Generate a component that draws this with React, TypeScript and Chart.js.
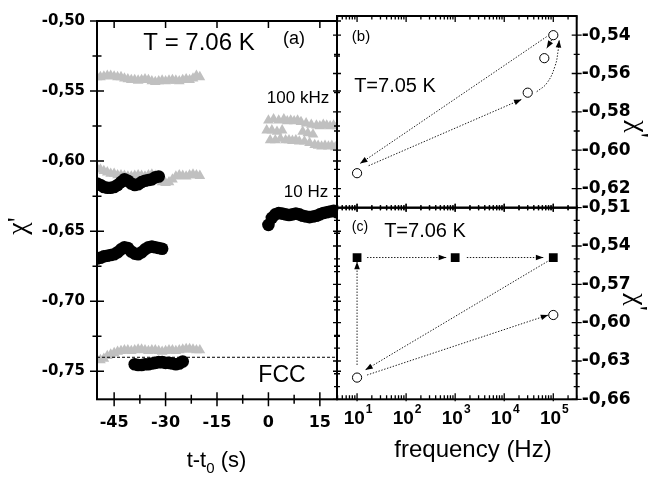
import React, { useEffect, useRef } from 'react';
import { Chart, registerables } from 'chart.js';

Chart.register(...registerables);

const W = 668;
const H = 477;

// ---------------- Panel (a): chi' versus t - t0 ----------------
const tGrayBefore = [-50, -49, -48, -47, -46, -45, -44, -43, -42, -41, -40, -39, -38, -37, -36, -35, -34, -33, -32, -31, -30, -29, -28, -27, -26, -25, -24, -23, -22, -21, -20];
const chiGrayHighBefore = [-0.540, -0.540, -0.5395, -0.539, -0.539, -0.5395, -0.540, -0.540, -0.541, -0.5415, -0.542, -0.542, -0.5425, -0.542, -0.5415, -0.542, -0.543, -0.5435, -0.543, -0.5425, -0.543, -0.5425, -0.542, -0.5425, -0.543, -0.542, -0.5415, -0.542, -0.541, -0.539, -0.540];
const chiGrayMidBefore = [-0.605, -0.606, -0.607, -0.608, -0.609, -0.609, -0.610, -0.610, -0.6105, -0.611, -0.611, -0.6105, -0.610, -0.6105, -0.611, -0.610, -0.6095, -0.6105, -0.613, -0.615, -0.6155, -0.615, -0.613, -0.611, -0.610, -0.6105, -0.611, -0.610, -0.6095, -0.610, -0.6105];
const chiGrayLowBefore = [-0.7415, -0.742, -0.741, -0.739, -0.738, -0.737, -0.736, -0.7355, -0.735, -0.735, -0.7355, -0.735, -0.7345, -0.7345, -0.735, -0.7355, -0.735, -0.735, -0.7355, -0.736, -0.7355, -0.735, -0.735, -0.7355, -0.735, -0.7345, -0.734, -0.734, -0.7345, -0.735, -0.735];

const tBlackHigh = [-50, -49, -48, -47, -46, -45, -44, -43, -42, -41, -40, -39, -38, -37, -36, -35, -34, -33, -32];
const chiBlackHigh = [-0.616, -0.617, -0.6185, -0.619, -0.619, -0.6185, -0.617, -0.615, -0.613, -0.614, -0.616, -0.617, -0.6165, -0.615, -0.614, -0.6135, -0.613, -0.6115, -0.611];

const tBlackMid = [-50, -49, -48, -47, -46, -45, -44, -43, -42, -41, -40, -39, -38, -37, -36, -35, -34, -33, -32, -31];
const chiBlackMid = [-0.6695, -0.669, -0.668, -0.6675, -0.667, -0.6665, -0.665, -0.663, -0.6615, -0.662, -0.6645, -0.666, -0.6665, -0.665, -0.663, -0.6615, -0.661, -0.6615, -0.662, -0.6625];

const tBlackLow = [-39, -38, -37, -36, -35, -34, -33, -32, -31, -30, -29, -28, -27, -26, -25];
const chiBlackLow = [-0.745, -0.7455, -0.7455, -0.745, -0.745, -0.7445, -0.744, -0.7435, -0.7435, -0.744, -0.744, -0.7445, -0.745, -0.7445, -0.743];

const tGrayAfter = [-0.5, 0, 0.5, 1, 1.5, 2, 2.5, 3, 3.5, 4, 4.5, 5, 5.5, 6, 6.5, 7, 7.5, 8, 8.5, 9, 9.5, 10, 10.5, 11, 11.5, 12, 12.5, 13, 13.5, 14, 14.5, 15, 15.5, 16, 16.5, 17, 17.5, 18, 18.5, 19, 19.5, 20];
const chiGrayAfter = [-0.578, -0.571, -0.585, -0.578, -0.570, -0.585, -0.579, -0.571, -0.584, -0.578, -0.570, -0.585, -0.5715, -0.585, -0.571, -0.5855, -0.5715, -0.585, -0.571, -0.586, -0.572, -0.579, -0.586, -0.573, -0.580, -0.587, -0.574, -0.581, -0.5885, -0.5745, -0.589, -0.575, -0.5895, -0.574, -0.589, -0.5745, -0.5895, -0.575, -0.589, -0.5745, -0.590, -0.575];

const tBlackAfter = [0, 1, 2, 3, 4, 5, 6, 7, 8, 9, 10, 11, 12, 13, 14, 15, 16, 17, 18, 19, 20];
const chiBlackAfter = [-0.6455, -0.6405, -0.638, -0.637, -0.6375, -0.638, -0.6385, -0.638, -0.6375, -0.638, -0.639, -0.6395, -0.640, -0.6395, -0.639, -0.638, -0.637, -0.6365, -0.636, -0.6355, -0.6365];

const fccT = [-50, 20];
const fccChi = [-0.74, -0.74];

const xMajorA = [-45, -30, -15, 0, 15];
const xMinorA = [-37.5, -22.5, -7.5, 7.5];
const yMajorA = [-0.75, -0.70, -0.65, -0.60, -0.55, -0.50];
const yMinorA = [-0.725, -0.675, -0.625, -0.575, -0.525];

// ---------------- Panel (b): chi' versus frequency, T = 7.05 K ----------------
const freqB = [10, 30100, 65600, 100000];
const chiB = [-0.612, -0.570, -0.552, -0.540];
const arrowsB = [
  { f: [73100, 11.5], chi: [-0.5408, -0.607], curved: false },
  { f: [17.2, 22500], chi: [-0.6081, -0.5735], curved: false },
  { f: [45900, 73500, 108000, 126000, 132000], chi: [-0.5695, -0.5651, -0.5563, -0.5477, -0.5425], curved: true },
  { f: [92700, 73500], chi: [-0.5425, -0.5468], curved: false },
];
const yMajorB = [-0.62, -0.60, -0.58, -0.56, -0.54];
const yMinorB = [-0.61, -0.59, -0.57, -0.55];

// ---------------- Panel (c): chi' versus frequency, T = 7.06 K ----------------
const freqSquaresC = [10, 1000, 100000];
const chiSquaresC = [-0.549, -0.549, -0.549];
const freqCirclesC = [10, 100000];
const chiCirclesC = [-0.643, -0.594];
const arrowsC = [
  { f: [10, 10], chi: [-0.6331, -0.5523], curved: false },
  { f: [16, 656], chi: [-0.549, -0.549], curved: false },
  { f: [1730, 62700], chi: [-0.549, -0.549], curved: false },
  { f: [85700, 14.7], chi: [-0.5509, -0.637], curved: false },
  { f: [16, 79000], chi: [-0.641, -0.594], curved: false },
];
const yMajorC = [-0.66, -0.63, -0.60, -0.57, -0.54, -0.51];
const yMinorC = [-0.65, -0.64, -0.62, -0.61, -0.59, -0.58, -0.56, -0.55, -0.53, -0.52];

const freqMajor = [10, 100, 1000, 10000, 100000];
const freqExponents = ['1', '2', '3', '4', '5'];
const freqMinor: number[] = [];
[1, 10, 100, 1000, 10000, 100000].forEach((d) => {
  for (let m = 2; m <= 9; m++) freqMinor.push(m * d);
});

// ---------------- helpers ----------------
const SANS = '"Liberation Sans", Arial, sans-serif';
const TICK = '"DejaVu Sans", sans-serif';
const SERIF = '"Liberation Serif", "DejaVu Serif", serif';

const pts = (xs: number[], ys: number[]) => xs.map((x, i) => ({ x, y: ys[i] }));

const blackCircles = (xs: number[], ys: number[]) => ({
  data: pts(xs, ys),
  showLine: false,
  pointStyle: 'circle',
  pointRadius: 6.3,
  pointBackgroundColor: '#000',
  pointBorderColor: '#000',
  pointBorderWidth: 0,
});

const grayTriangles = (xs: number[], ys: number[]) => ({
  data: pts(xs, ys),
  showLine: false,
  pointStyle: 'triangle',
  pointRadius: 6.2,
  pointBackgroundColor: '#c0c0c0',
  pointBorderColor: '#c0c0c0',
  pointBorderWidth: 0,
});

const openCircles = (xs: number[], ys: number[]) => ({
  data: pts(xs, ys),
  showLine: false,
  pointStyle: 'circle',
  pointRadius: 4.6,
  pointBackgroundColor: '#fff',
  pointBorderColor: '#000',
  pointBorderWidth: 1,
});

const filledSquares = (xs: number[], ys: number[]) => ({
  data: pts(xs, ys),
  showLine: false,
  pointStyle: 'rect',
  pointRadius: 6.2,
  pointBackgroundColor: '#000',
  pointBorderColor: '#000',
  pointBorderWidth: 0,
});

const arrowSet = (a: { f: number[]; chi: number[]; curved: boolean }) => ({
  data: pts(a.f, a.chi),
  showLine: true,
  borderColor: '#1a1a1a',
  borderWidth: 1,
  borderDash: [1.4, 1.6],
  pointRadius: 0,
  tension: a.curved ? 0.45 : 0,
  arrow: true,
});

function tickSet(chart: any, axis: string, side: string, values: number[], inLen: number, outLen: number) {
  const ctx = chart.ctx;
  const a = chart.chartArea;
  const s = chart.scales[axis];
  ctx.beginPath();
  values.forEach((v) => {
    const p = s.getPixelForValue(v);
    if (axis === 'x') {
      if (p < a.left - 0.5 || p > a.right + 0.5) return;
      const y0 = side === 'bottom' ? a.bottom : a.top;
      const d = side === 'bottom' ? -1 : 1;
      ctx.moveTo(p, y0 - d * outLen);
      ctx.lineTo(p, y0 + d * inLen);
    } else {
      if (p < a.top - 0.5 || p > a.bottom + 0.5) return;
      const x0 = side === 'left' ? a.left : a.right;
      const d = side === 'left' ? 1 : -1;
      ctx.moveTo(x0 - d * outLen, p);
      ctx.lineTo(x0 + d * inLen, p);
    }
  });
  ctx.stroke();
}

function text(ctx: any, s: string, x: number, y: number, size: number, o: any = {}) {
  ctx.save();
  ctx.font = `${o.weight || 'normal'} ${size}px ${o.family || SANS}`;
  ctx.fillStyle = '#000';
  ctx.textAlign = o.align || 'center';
  ctx.textBaseline = o.baseline || 'alphabetic';
  if (o.rot) {
    ctx.translate(x, y);
    ctx.rotate(o.rot);
    ctx.fillText(s, 0, 0);
  } else {
    ctx.fillText(s, x, y);
  }
  ctx.restore();
}

function frame(chart: any) {
  const ctx = chart.ctx;
  const a = chart.chartArea;
  ctx.save();
  ctx.strokeStyle = '#000';
  ctx.lineWidth = 2;
  ctx.strokeRect(a.left, a.top, a.right - a.left, a.bottom - a.top);
  ctx.restore();
}

const arrowHeads = {
  id: 'arrowHeads',
  afterDatasetsDraw(chart: any) {
    const ctx = chart.ctx;
    chart.data.datasets.forEach((ds: any, i: number) => {
      if (!ds.arrow) return;
      const els = chart.getDatasetMeta(i).data;
      const p0 = els[els.length - 2];
      const p1 = els[els.length - 1];
      const ang = Math.atan2(p1.y - p0.y, p1.x - p0.x);
      const L = 7.5;
      const hw = 2.8;
      ctx.save();
      ctx.fillStyle = '#000';
      ctx.beginPath();
      ctx.moveTo(p1.x, p1.y);
      ctx.lineTo(p1.x - L * Math.cos(ang) + hw * Math.sin(ang), p1.y - L * Math.sin(ang) - hw * Math.cos(ang));
      ctx.lineTo(p1.x - L * Math.cos(ang) - hw * Math.sin(ang), p1.y - L * Math.sin(ang) + hw * Math.cos(ang));
      ctx.closePath();
      ctx.fill();
      ctx.restore();
    });
  },
};

const chiLabel = (ctx: any, x: number, y: number, rot: number) =>
  text(ctx, "\u03c7'", x, y, 28, { family: SERIF, baseline: 'middle', rot });

const decorA = {
  id: 'decorA',
  afterDraw(chart: any) {
    const ctx = chart.ctx;
    frame(chart);
    ctx.save();
    ctx.strokeStyle = '#000';
    ctx.lineWidth = 1.5;
    tickSet(chart, 'x', 'bottom', xMajorA, 7, 7);
    tickSet(chart, 'x', 'bottom', xMinorA, 4.5, 4.5);
    tickSet(chart, 'x', 'top', xMajorA, 7, 0);
    tickSet(chart, 'y', 'left', yMajorA, 7, 7);
    tickSet(chart, 'y', 'left', yMinorA, 4.5, 4.5);
    tickSet(chart, 'y', 'right', yMajorA, 4, 4);
    tickSet(chart, 'y', 'right', yMinorA, 3, 3);
    ctx.restore();

    text(ctx, 'T = 7.06 K', 199, 50, 24);
    text(ctx, '(a)', 294, 44, 18);
    text(ctx, '100 kHz', 298, 103, 17);
    text(ctx, '10 Hz', 306, 197, 17);
    text(ctx, 'FCC', 282, 382, 23);
    chiLabel(ctx, 19, 226, -Math.PI / 2);

    // axis title t-t0 (s)
    ctx.save();
    ctx.fillStyle = '#000';
    ctx.textBaseline = 'alphabetic';
    ctx.textAlign = 'left';
    ctx.font = `22px ${SANS}`;
    const w1 = ctx.measureText('t-t').width;
    const w3 = ctx.measureText(' (s)').width;
    ctx.font = `15px ${SANS}`;
    const w2 = ctx.measureText('0').width;
    const x0 = 216.5 - (w1 + w2 + w3) / 2;
    const base = 467;
    ctx.font = `22px ${SANS}`;
    ctx.fillText('t-t', x0, base);
    ctx.fillText(' (s)', x0 + w1 + w2, base);
    ctx.font = `15px ${SANS}`;
    ctx.fillText('0', x0 + w1, base + 6);
    ctx.restore();
  },
};

const decorB = {
  id: 'decorB',
  afterDraw(chart: any) {
    const ctx = chart.ctx;
    frame(chart);
    ctx.save();
    ctx.strokeStyle = '#000';
    ctx.lineWidth = 1.3;
    tickSet(chart, 'x', 'top', freqMajor, 6, 0);
    tickSet(chart, 'x', 'top', freqMinor, 3.5, 0);
    tickSet(chart, 'x', 'bottom', freqMajor, 4, 4);
    tickSet(chart, 'x', 'bottom', freqMinor, 2.5, 2.5);
    tickSet(chart, 'y', 'left', yMajorB, 4, 4);
    tickSet(chart, 'y', 'left', yMinorB, 3, 3);
    tickSet(chart, 'y', 'right', yMajorB, 5, 5);
    tickSet(chart, 'y', 'right', yMinorB, 3, 3);
    ctx.restore();
    text(ctx, '(b)', 361, 41, 15);
    text(ctx, 'T=7.05 K', 395, 92, 20);
    chiLabel(ctx, 637, 129, Math.PI / 2);
  },
};

const decorC = {
  id: 'decorC',
  afterDraw(chart: any) {
    const ctx = chart.ctx;
    frame(chart);
    ctx.save();
    ctx.strokeStyle = '#000';
    ctx.lineWidth = 1.3;
    tickSet(chart, 'x', 'top', freqMajor, 4, 4);
    tickSet(chart, 'x', 'top', freqMinor, 2.5, 2.5);
    tickSet(chart, 'x', 'bottom', freqMajor, 6, 2);
    tickSet(chart, 'x', 'bottom', freqMinor, 4, 0);
    tickSet(chart, 'y', 'left', yMajorC, 4, 4);
    tickSet(chart, 'y', 'left', yMinorC, 3, 3);
    tickSet(chart, 'y', 'right', yMajorC, 5, 5);
    tickSet(chart, 'y', 'right', yMinorC, 3, 3);
    ctx.restore();

    const s = chart.scales.x;
    ctx.save();
    ctx.fillStyle = '#000';
    ctx.textAlign = 'left';
    ctx.textBaseline = 'alphabetic';
    freqMajor.forEach((v, i) => {
      const p = s.getPixelForValue(v);
      ctx.font = `bold 19px ${SANS}`;
      const w1 = ctx.measureText('10').width;
      ctx.font = `bold 12px ${SANS}`;
      const w2 = ctx.measureText(freqExponents[i]).width;
      const x0 = p - (w1 + 1 + w2) / 2 + 1;
      ctx.font = `bold 19px ${SANS}`;
      ctx.fillText('10', x0, 424);
      ctx.font = `bold 12px ${SANS}`;
      ctx.fillText(freqExponents[i], x0 + w1 + 1, 413);
    });
    ctx.restore();

    text(ctx, '(c)', 360, 231, 14);
    text(ctx, 'T=7.06 K', 425, 237, 20);
    text(ctx, 'frequency (Hz)', 473, 457, 24);
    chiLabel(ctx, 636, 302, Math.PI / 2);
  },
};

const commonOpts = {
  responsive: false,
  animation: false,
  devicePixelRatio: 1,
  events: [],
  plugins: { legend: { display: false }, tooltip: { enabled: false } },
};

const fmtComma = (v: any) => Number(v).toFixed(2).replace('.', ',');

function configA(): any {
  return {
    type: 'scatter',
    data: {
      datasets: [
        {
          data: pts(fccT, fccChi),
          showLine: true,
          borderColor: '#000',
          borderWidth: 1,
          borderDash: [3, 2],
          pointRadius: 0,
        },
        blackCircles(tBlackHigh, chiBlackHigh),
        blackCircles(tBlackMid, chiBlackMid),
        blackCircles(tBlackLow, chiBlackLow),
        blackCircles(tBlackAfter, chiBlackAfter),
        grayTriangles(tGrayBefore, chiGrayHighBefore),
        grayTriangles(tGrayBefore, chiGrayMidBefore),
        grayTriangles(tGrayBefore, chiGrayLowBefore),
        grayTriangles(tGrayAfter, chiGrayAfter),
      ],
    },
    options: {
      ...commonOpts,
      layout: { padding: { left: 0, top: 16, right: W - 337, bottom: 0 } },
      scales: {
        x: {
          type: 'linear',
          position: 'bottom',
          min: -50,
          max: 20,
          grid: { display: false, drawTicks: false },
          border: { display: false },
          ticks: {
            font: { family: TICK, weight: 'bold', size: 16 },
            color: '#000',
            padding: 14,
            maxRotation: 0,
            autoSkip: false,
            callback: (v: any) => String(v),
          },
          afterBuildTicks: (s: any) => {
            s.ticks = xMajorA.map((value) => ({ value }));
          },
          afterFit: (s: any) => {
            s.height = H - 399.3;
          },
        },
        y: {
          type: 'linear',
          position: 'left',
          min: -0.77,
          max: -0.5,
          grid: { display: false, drawTicks: false },
          border: { display: false },
          ticks: {
            font: { family: TICK, weight: 'bold', size: 15 },
            color: '#000',
            padding: 12,
            autoSkip: false,
            callback: fmtComma,
          },
          afterBuildTicks: (s: any) => {
            s.ticks = yMajorA.map((value) => ({ value }));
          },
          afterFit: (s: any) => {
            s.width = 97;
          },
        },
      },
    },
    plugins: [decorA],
  };
}

function configB(): any {
  return {
    type: 'scatter',
    data: {
      datasets: [openCircles(freqB, chiB), ...arrowsB.map(arrowSet)],
    },
    options: {
      ...commonOpts,
      layout: { padding: { left: 337, top: 16, right: 0, bottom: H - 207.7 } },
      scales: {
        x: { type: 'logarithmic', min: 3.9, max: 300000, display: false },
        y: {
          type: 'linear',
          position: 'right',
          min: -0.63,
          max: -0.53,
          grid: { display: false, drawTicks: false },
          border: { display: false },
          ticks: {
            font: { family: TICK, weight: 'bold', size: 17 },
            color: '#000',
            padding: 5,
            autoSkip: false,
            callback: fmtComma,
          },
          afterBuildTicks: (s: any) => {
            s.ticks = yMajorB.map((value) => ({ value }));
          },
          afterFit: (s: any) => {
            s.width = W - 576.7;
          },
        },
      },
    },
    plugins: [arrowHeads, decorB],
  };
}

function configC(): any {
  return {
    type: 'scatter',
    data: {
      datasets: [
        filledSquares(freqSquaresC, chiSquaresC),
        openCircles(freqCirclesC, chiCirclesC),
        ...arrowsC.map(arrowSet),
      ],
    },
    options: {
      ...commonOpts,
      layout: { padding: { left: 337, top: 207.7, right: 0, bottom: 0 } },
      scales: {
        x: {
          type: 'logarithmic',
          position: 'bottom',
          min: 3.9,
          max: 300000,
          grid: { display: false, drawTicks: false },
          border: { display: false },
          ticks: { display: false },
          afterFit: (s: any) => {
            s.height = H - 399.3;
          },
        },
        y: {
          type: 'linear',
          position: 'right',
          min: -0.66,
          max: -0.51,
          grid: { display: false, drawTicks: false },
          border: { display: false },
          ticks: {
            font: { family: TICK, weight: 'bold', size: 17 },
            color: '#000',
            padding: 5,
            autoSkip: false,
            callback: fmtComma,
          },
          afterBuildTicks: (s: any) => {
            s.ticks = yMajorC.map((value) => ({ value }));
          },
          afterFit: (s: any) => {
            s.width = W - 576.7;
          },
        },
      },
    },
    plugins: [arrowHeads, decorC],
  };
}

export default function App() {
  const refA = useRef<HTMLCanvasElement>(null);
  const refB = useRef<HTMLCanvasElement>(null);
  const refC = useRef<HTMLCanvasElement>(null);

  useEffect(() => {
    const charts: Chart[] = [];
    if (refA.current) charts.push(new Chart(refA.current, configA()));
    if (refB.current) charts.push(new Chart(refB.current, configB()));
    if (refC.current) charts.push(new Chart(refC.current, configC()));
    return () => charts.forEach((c) => c.destroy());
  }, []);

  const cs: React.CSSProperties = { position: 'absolute', left: 0, top: 0, width: W, height: H };
  return (
    <div style={{ position: 'absolute', left: 0, top: 0, width: W, height: H, background: '#fff', overflow: 'hidden' }}>
      <canvas ref={refA} width={W} height={H} style={cs} />
      <canvas ref={refB} width={W} height={H} style={cs} />
      <canvas ref={refC} width={W} height={H} style={cs} />
    </div>
  );
}
